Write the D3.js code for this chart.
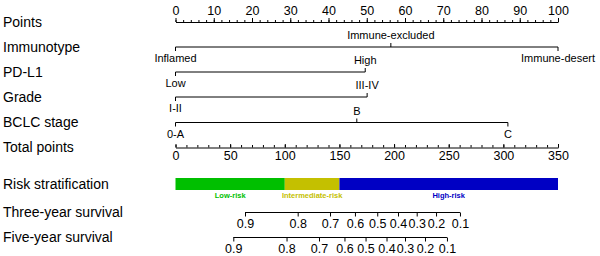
<!DOCTYPE html>
<html>
<head>
<meta charset="utf-8">
<script src="https://cdn.jsdelivr.net/npm/d3@7"></script>
<style>
  body { margin: 0; background: #fff; }
  svg { font-family: "Liberation Sans", Arial, sans-serif; }
  .axis path, .axis line { stroke: #000; }
  .axis text { fill: #000; }
</style>
</head>
<body>
<svg id="nomo"></svg>
<script>
// row titles
var rowLabels = ['Points', 'Immunotype', 'PD-L1', 'Grade', 'BCLC stage', 'Total points',
                 'Risk stratification', 'Three-year survival', 'Five-year survival']

// points scale ticks
var pointTicks = d3.range(0, 101, 10)
var pointMinor = d3.range(0, 101, 2)
var totalTicks = d3.range(0, 351, 50)
var totalMinor = d3.range(0, 351, 10)

// predictor levels and their points (side: 1 = label below, -1 = label above)
var immunoLevels = ['Inflamed', 'Immune-excluded', 'Immune-desert']
var immunoPoints = [0, 56.3, 100]
var immunoSide = [1, -1, 1]

var pdl1Levels = ['Low', 'High']
var pdl1Points = [0, 49.6]
var pdl1Side = [1, -1]

var gradeLevels = ['I-II', 'III-IV']
var gradePoints = [0, 50.1]
var gradeSide = [1, -1]

var bclcLevels = ['0-A', 'B', 'C']
var bclcPoints = [0, 47.4, 86.9]
var bclcSide = [1, -1, 1]

// risk groups on the total points scale
var riskNames = ['Low-risk', 'Intermediate-risk', 'High-risk']
var riskCuts = [0, 100, 150, 350]
var riskColors = ['#00bf00', '#c4c000', '#0000c4']

// survival probabilities and the total points where they fall
var survLabels = ['0.9', '0.8', '0.7', '0.6', '0.5', '0.4', '0.3', '0.2', '0.1']
var surv3Points = [63.6, 111.8, 141.4, 164.2, 184.6, 203.6, 220.7, 238.4, 260.3]
var surv5Points = [52.9, 101.6, 131.3, 154.6, 173.9, 193.1, 210.0, 228.3, 248.4]

var width = 600, height = 256
var left = 175.5, right = 558
var rowY = [22, 47, 72, 97, 122.5, 147.5, 184, 212.5, 237.5]

var svg = d3.select('#nomo').attr('width', width).attr('height', height)

var x = d3.scaleLinear().domain([0, 100]).range([left, right])
var xt = d3.scaleLinear().domain([0, 350]).range([left, right])

// titles on the left
svg.selectAll('.rowlab')
    .data(rowLabels)
  .enter().append('text')
    .attr('class', 'rowlab')
    .attr('x', 3)
    .attr('y', (d, i) => rowY[i])
    .attr('dy', '0.35em')
    .style('font-size', '14px')
    .text(d => d)

// Points axis, ticks up
svg.append('g')
    .attr('class', 'axis')
    .attr('transform', 'translate(0,' + rowY[0] + ')')
    .call(d3.axisTop(x).tickValues(pointMinor).tickSizeInner(2).tickSizeOuter(0).tickFormat(''))
svg.append('g')
    .attr('class', 'axis')
    .attr('transform', 'translate(0,' + rowY[0] + ')')
    .call(d3.axisTop(x).tickValues(pointTicks).tickSizeInner(4).tickSizeOuter(0).tickPadding(3))
    .call(g => g.select('.domain').remove())
    .selectAll('text').style('font-size', '12.5px').style('font-family', 'inherit')

// categorical predictors
function drawFactor(levels, pts, side, y) {
    var g = svg.append('g')
    g.append('line')
        .attr('x1', x(d3.min(pts))).attr('x2', x(d3.max(pts)))
        .attr('y1', y).attr('y2', y)
        .attr('stroke', '#000')
    g.selectAll('line.tk')
        .data(pts)
      .enter().append('line')
        .attr('class', 'tk')
        .attr('x1', d => x(d)).attr('x2', d => x(d))
        .attr('y1', y).attr('y2', (d, i) => y + side[i] * 4)
        .attr('stroke', '#000')
    g.selectAll('text')
        .data(levels)
      .enter().append('text')
        .attr('x', (d, i) => x(pts[i]))
        .attr('y', (d, i) => y + side[i] * 11.5)
        .attr('dy', '0.35em')
        .attr('text-anchor', 'middle')
        .style('font-size', '11px')
        .text(d => d)
}
drawFactor(immunoLevels, immunoPoints, immunoSide, rowY[1])
drawFactor(pdl1Levels, pdl1Points, pdl1Side, rowY[2])
drawFactor(gradeLevels, gradePoints, gradeSide, rowY[3])
drawFactor(bclcLevels, bclcPoints, bclcSide, rowY[4])

// Total points axis, ticks up and labels below
svg.append('g')
    .attr('class', 'axis')
    .attr('transform', 'translate(0,' + rowY[5] + ')')
    .call(d3.axisBottom(xt).tickValues(totalMinor).tickSizeInner(-2.5).tickSizeOuter(0).tickFormat(''))
svg.append('g')
    .attr('class', 'axis')
    .attr('transform', 'translate(0,' + rowY[5] + ')')
    .call(d3.axisBottom(xt).tickValues(totalTicks).tickSizeInner(-3.5).tickSizeOuter(0).tickPadding(4))
    .call(g => g.select('.domain').remove())
    .selectAll('text').style('font-size', '12.5px').style('font-family', 'inherit')

// risk stratification bar
var riskData = riskNames.map((n, i) => ({name: n, from: riskCuts[i], to: riskCuts[i + 1], color: riskColors[i]}))
svg.selectAll('rect.risk')
    .data(riskData)
  .enter().append('rect')
    .attr('class', 'risk')
    .attr('x', d => xt(d.from))
    .attr('width', d => xt(d.to) - xt(d.from))
    .attr('y', 178)
    .attr('height', 12)
    .attr('fill', d => d.color)
svg.selectAll('text.risk')
    .data(riskData)
  .enter().append('text')
    .attr('class', 'risk')
    .attr('x', d => (xt(d.from) + xt(d.to)) / 2)
    .attr('y', 195.5)
    .attr('dy', '0.35em')
    .attr('text-anchor', 'middle')
    .style('font-size', '7.5px')
    .style('font-weight', 'bold')
    .attr('fill', d => d.color)
    .text(d => d.name)

// survival axes
function drawSurv(pts, y) {
    var g = svg.append('g')
        .attr('class', 'axis')
        .attr('transform', 'translate(0,' + y + ')')
        .call(d3.axisBottom(xt).tickValues(pts).tickSizeInner(4).tickSizeOuter(0).tickPadding(3)
            .tickFormat((d, i) => survLabels[i]))
    g.select('.domain').remove()
    g.append('line')
        .attr('x1', xt(d3.min(pts))).attr('x2', xt(d3.max(pts)))
        .attr('stroke', '#000')
    g.selectAll('text').style('font-size', '12.5px').style('font-family', 'inherit')
}
drawSurv(surv3Points, rowY[7])
drawSurv(surv5Points, rowY[8])
</script>
</body>
</html>
